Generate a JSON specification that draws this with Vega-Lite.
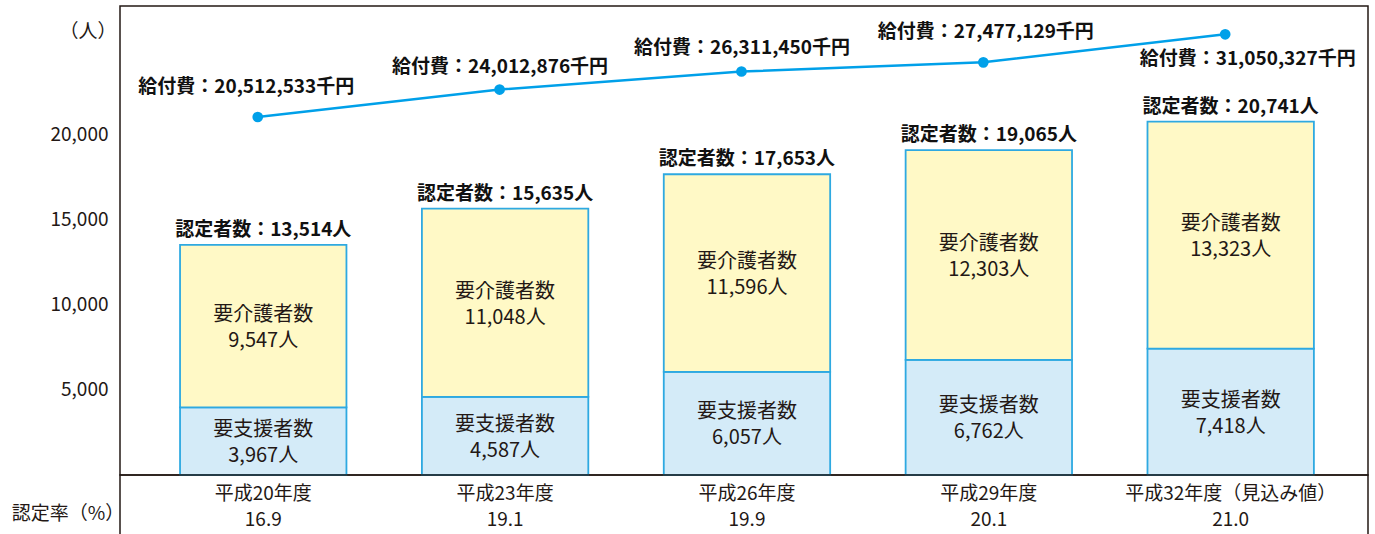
{
  "$schema": "https://vega.github.io/schema/vega-lite/v6.json",
  "padding": {"left": 6, "top": 5, "right": 0, "bottom": 0},
  "background": "white",
  "config": {
    "font": "Noto Sans CJK JP",
    "view": {"stroke": "#231815", "strokeWidth": 1.5},
    "axis": {"labelFont": "Noto Sans CJK JP", "titleFont": "Noto Sans CJK JP"}
  },
  "datasets": {
    "counts": [
      {"year": "平成20年度", "cat": "要支援者数", "n": 3967},
      {"year": "平成20年度", "cat": "要介護者数", "n": 9547},
      {"year": "平成23年度", "cat": "要支援者数", "n": 4587},
      {"year": "平成23年度", "cat": "要介護者数", "n": 11048},
      {"year": "平成26年度", "cat": "要支援者数", "n": 6057},
      {"year": "平成26年度", "cat": "要介護者数", "n": 11596},
      {"year": "平成29年度", "cat": "要支援者数", "n": 6762},
      {"year": "平成29年度", "cat": "要介護者数", "n": 12303},
      {"year": "平成32年度（見込み値）", "cat": "要支援者数", "n": 7418},
      {"year": "平成32年度（見込み値）", "cat": "要介護者数", "n": 13323}
    ],
    "years": [
      {"year": "平成20年度", "kyufu": 20512533, "rate": 16.9},
      {"year": "平成23年度", "kyufu": 24012876, "rate": 19.1},
      {"year": "平成26年度", "kyufu": 26311450, "rate": 19.9},
      {"year": "平成29年度", "kyufu": 27477129, "rate": 20.1},
      {"year": "平成32年度（見込み値）", "kyufu": 31050327, "rate": 21.0}
    ]
  },
  "columns": 2,
  "spacing": 0,
  "bounds": "flush",
  "align": "each",
  "concat": [
    {
      "width": 114,
      "height": 469,
      "data": {"values": [{}]},
      "mark": {"type": "text"},
      "encoding": {"text": {"value": ""}}
    },
    {
      "width": 1248,
      "height": 469,
      "resolve": {"scale": {"y": "independent"}},
      "layer": [
        {
          "data": {"name": "counts"},
          "transform": [
            {"stack": "n", "groupby": ["year"], "sort": [{"field": "cat", "order": "descending"}], "as": ["y0", "y1"]}
          ],
          "mark": {"type": "bar", "stroke": "#2ea9e1", "strokeWidth": 1.8},
          "encoding": {
            "x": {"field": "year", "type": "nominal", "sort": null,
                  "scale": {"type": "band", "domain": ["平成20年度", "平成23年度", "平成26年度", "平成29年度", "平成32年度（見込み値）"], "paddingInner": 0.312, "paddingOuter": 0.236, "align": 0.526},
                  "axis": null},
            "y": {"field": "y1", "type": "quantitative",
                  "scale": {"domain": [0, 27530], "nice": false, "zero": true},
                  "axis": {"values": [5000, 10000, 15000, 20000], "format": ",d", "domain": false, "ticks": false, "tickSize": 0, "grid": false,
                           "labelPadding": 12, "labelFontSize": 19, "labelColor": "#231815",
                           "title": "（人）", "titleAngle": 0, "titleX": -4, "titleY": 25, "titleAlign": "right", "titleBaseline": "middle",
                           "titleFontSize": 19, "titleFontWeight": "normal", "titleColor": "#231815"}},
            "y2": {"field": "y0"},
            "color": {"field": "cat", "type": "nominal",
                      "scale": {"domain": ["要支援者数", "要介護者数"], "range": ["#d4ebf8", "#fff9c6"]},
                      "legend": null}
          }
        },
        {
          "data": {"name": "counts"},
          "transform": [
            {"stack": "n", "groupby": ["year"], "sort": [{"field": "cat", "order": "descending"}], "as": ["y0", "y1"]},
            {"fold": ["y0", "y1"], "as": ["edge", "pos"]},
            {"aggregate": [{"op": "mean", "field": "pos", "as": "mid"}], "groupby": ["year", "cat", "n"]},
            {"calculate": "datum.cat + '\\n' + format(datum.n, ',') + '人'", "as": "label"}
          ],
          "mark": {"type": "text", "fontSize": 20, "fill": "#231815", "lineBreak": "\n", "lineHeight": 26, "baseline": "middle", "align": "center", "dy": -11},
          "encoding": {
            "x": {"field": "year", "type": "nominal", "sort": null},
            "y": {"field": "mid", "type": "quantitative", "scale": {"domain": [0, 27530], "nice": false, "zero": true}, "axis": null},
            "text": {"field": "label"}
          }
        },
        {
          "data": {"name": "counts"},
          "transform": [
            {"aggregate": [{"op": "sum", "field": "n", "as": "total"}], "groupby": ["year"]},
            {"calculate": "'認定者数：' + format(datum.total, ',') + '人'", "as": "label"}
          ],
          "mark": {"type": "text", "fontSize": 19, "fontWeight": "bold", "fill": "#111111", "baseline": "middle", "align": "center", "dy": -15},
          "encoding": {
            "x": {"field": "year", "type": "nominal", "sort": null},
            "y": {"field": "total", "type": "quantitative", "scale": {"domain": [0, 27530], "nice": false, "zero": true}, "axis": null},
            "text": {"field": "label"}
          }
        },
        {
          "data": {"name": "years"},
          "layer": [
            {
              "mark": {"type": "line", "color": "#00a0e9", "strokeWidth": 2.5, "xOffset": -5.5},
              "encoding": {
                "x": {"field": "year", "type": "nominal", "sort": null},
                "y": {"field": "kyufu", "type": "quantitative", "scale": {"domain": [-25100000, 34656000], "nice": false, "zero": false}, "axis": null}
              }
            },
            {
              "mark": {"type": "point", "filled": true, "size": 115, "color": "#00a0e9", "opacity": 1, "xOffset": -5.5},
              "encoding": {
                "x": {"field": "year", "type": "nominal", "sort": null},
                "y": {"field": "kyufu", "type": "quantitative", "scale": {"domain": [-25100000, 34656000], "nice": false, "zero": false}, "axis": null}
              }
            },
            {
              "transform": [
                {"filter": "datum.year === '平成20年度'"},
                {"calculate": "'給付費：' + format(datum.kyufu, ',') + '千円'", "as": "label"}
              ],
              "mark": {"type": "text", "fontSize": 19, "fontWeight": "bold", "fill": "#111111", "baseline": "middle", "align": "center", "dx": -17, "dy": -30},
              "encoding": {
                "x": {"field": "year", "type": "nominal", "sort": null},
                "y": {"field": "kyufu", "type": "quantitative", "scale": {"domain": [-25100000, 34656000], "nice": false, "zero": false}, "axis": null},
                "text": {"field": "label"}
              }
            },
            {
              "transform": [
                {"filter": "datum.year === '平成23年度' || datum.year === '平成26年度'"},
                {"calculate": "'給付費：' + format(datum.kyufu, ',') + '千円'", "as": "label"}
              ],
              "mark": {"type": "text", "fontSize": 19, "fontWeight": "bold", "fill": "#111111", "baseline": "middle", "align": "center", "dx": -5, "dy": -23},
              "encoding": {
                "x": {"field": "year", "type": "nominal", "sort": null},
                "y": {"field": "kyufu", "type": "quantitative", "scale": {"domain": [-25100000, 34656000], "nice": false, "zero": false}, "axis": null},
                "text": {"field": "label"}
              }
            },
            {
              "transform": [
                {"filter": "datum.year === '平成29年度'"},
                {"calculate": "'給付費：' + format(datum.kyufu, ',') + '千円'", "as": "label"}
              ],
              "mark": {"type": "text", "fontSize": 19, "fontWeight": "bold", "fill": "#111111", "baseline": "middle", "align": "center", "dx": -3, "dy": -30},
              "encoding": {
                "x": {"field": "year", "type": "nominal", "sort": null},
                "y": {"field": "kyufu", "type": "quantitative", "scale": {"domain": [-25100000, 34656000], "nice": false, "zero": false}, "axis": null},
                "text": {"field": "label"}
              }
            },
            {
              "transform": [
                {"filter": "datum.year === '平成32年度（見込み値）'"},
                {"calculate": "'給付費：' + format(datum.kyufu, ',') + '千円'", "as": "label"}
              ],
              "mark": {"type": "text", "fontSize": 19, "fontWeight": "bold", "fill": "#111111", "baseline": "middle", "align": "center", "dx": 17, "dy": 25},
              "encoding": {
                "x": {"field": "year", "type": "nominal", "sort": null},
                "y": {"field": "kyufu", "type": "quantitative", "scale": {"domain": [-25100000, 34656000], "nice": false, "zero": false}, "axis": null},
                "text": {"field": "label"}
              }
            }
          ]
        }
      ]
    },
    {
      "width": 114,
      "height": 61,
      "data": {"values": [{"label": "認定率（%）"}]},
      "mark": {"type": "text", "fontSize": 19, "fill": "#231815", "align": "center", "baseline": "middle", "dx": 5, "dy": 8},
      "encoding": {"text": {"field": "label"}}
    },
    {
      "width": 1248,
      "height": 61,
      "data": {"name": "years"},
      "transform": [
        {"calculate": "datum.year + '\\n' + format(datum.rate, '.1f')", "as": "label"}
      ],
      "mark": {"type": "text", "fontSize": 19, "fill": "#231815", "lineBreak": "\n", "lineHeight": 26, "baseline": "middle", "align": "center", "dy": -12},
      "encoding": {
        "x": {"field": "year", "type": "nominal", "sort": null,
              "scale": {"type": "band", "domain": ["平成20年度", "平成23年度", "平成26年度", "平成29年度", "平成32年度（見込み値）"], "paddingInner": 0.312, "paddingOuter": 0.236, "align": 0.526},
              "axis": null},
        "text": {"field": "label"}
      }
    }
  ]
}
